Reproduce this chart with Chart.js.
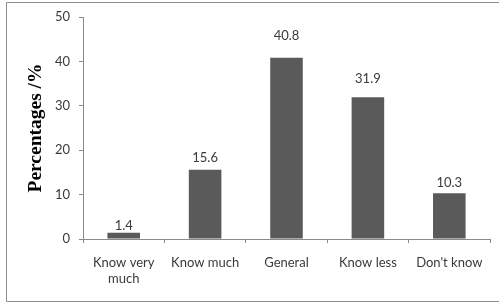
<!DOCTYPE html>
<html>
<head>
<meta charset="utf-8">
<script src="https://cdn.jsdelivr.net/npm/chart.js@4/dist/chart.umd.min.js"></script>
<style>
html,body{margin:0;padding:0;background:#fff;}
#wrap{position:relative;width:499px;height:303px;}
</style>
</head>
<body>
<div id="wrap"><canvas id="c" width="499" height="303"></canvas></div>
<script>
const categories = [["Know very", "much"], "Know much", "General", "Know less", "Don't know"];
const percentages = [1.4, 15.6, 40.8, 31.9, 10.3];
const yTicks = [0, 10, 20, 30, 40, 50];
const yTitle = "Percentages /%";

const textColor = "#3a3a3a";
const axisColor = "#8a8a8a";
const tickFont = {family: "Lato", size: 13};

const frame = {
  id: "frame",
  beforeDraw(chart) {
    const ctx = chart.ctx;
    ctx.save();
    ctx.fillStyle = "#fff";
    ctx.fillRect(0, 0, chart.width, chart.height);
    ctx.strokeStyle = "#8f8f8f";
    ctx.lineWidth = 1;
    ctx.beginPath();
    ctx.moveTo(chart.width, 2.5);
    ctx.lineTo(6.5, 2.5);
    ctx.lineTo(6.5, 301.5);
    ctx.lineTo(chart.width, 301.5);
    ctx.stroke();
    ctx.restore();
  }
};

const valueLabels = {
  id: "valueLabels",
  afterDatasetsDraw(chart) {
    const ctx = chart.ctx;
    const meta = chart.getDatasetMeta(0);
    ctx.save();
    ctx.font = "13px Lato";
    ctx.fillStyle = textColor;
    ctx.textAlign = "center";
    ctx.textBaseline = "middle";
    meta.data.forEach((bar, i) => {
      const v = chart.data.datasets[0].data[i];
      ctx.fillText(v.toFixed(1), bar.x, bar.y - (6 + v * 0.4));
    });
    ctx.restore();
  }
};

new Chart(document.getElementById("c"), {
  type: "bar",
  data: {
    labels: categories,
    datasets: [{
      data: percentages,
      backgroundColor: "#5a5a5a",
      borderWidth: 0,
      categoryPercentage: 1,
      barPercentage: 0.4
    }]
  },
  options: {
    responsive: false,
    animation: false,
    devicePixelRatio: 1,
    layout: {padding: {left: 0, right: 9, top: 17, bottom: 0}},
    plugins: {legend: {display: false}, tooltip: {enabled: false}},
    scales: {
      x: {
        grid: {offset: true, drawOnChartArea: false, drawTicks: true, tickLength: 4, color: axisColor},
        border: {display: true, color: axisColor},
        ticks: {color: textColor, font: tickFont, padding: 12, maxRotation: 0, autoSkip: false},
        afterFit(s) { s.height = 303 - 239 - 0; }
      },
      y: {
        min: 0, max: 50,
        afterBuildTicks(s) { s.ticks = yTicks.map(v => ({value: v})); },
        grid: {drawOnChartArea: false, drawTicks: true, tickLength: 4, color: axisColor},
        border: {display: true, color: axisColor},
        ticks: {color: textColor, font: tickFont, padding: 9},
        title: {display: true, text: yTitle, color: "#000",
                font: {family: "Liberation Serif", size: 19.5, weight: "bold"},
                padding: {top: 24, bottom: 0}},
        afterFit(s) { s.width = 83; }
      }
    }
  },
  plugins: [frame, valueLabels]
});
</script>
</body>
</html>
